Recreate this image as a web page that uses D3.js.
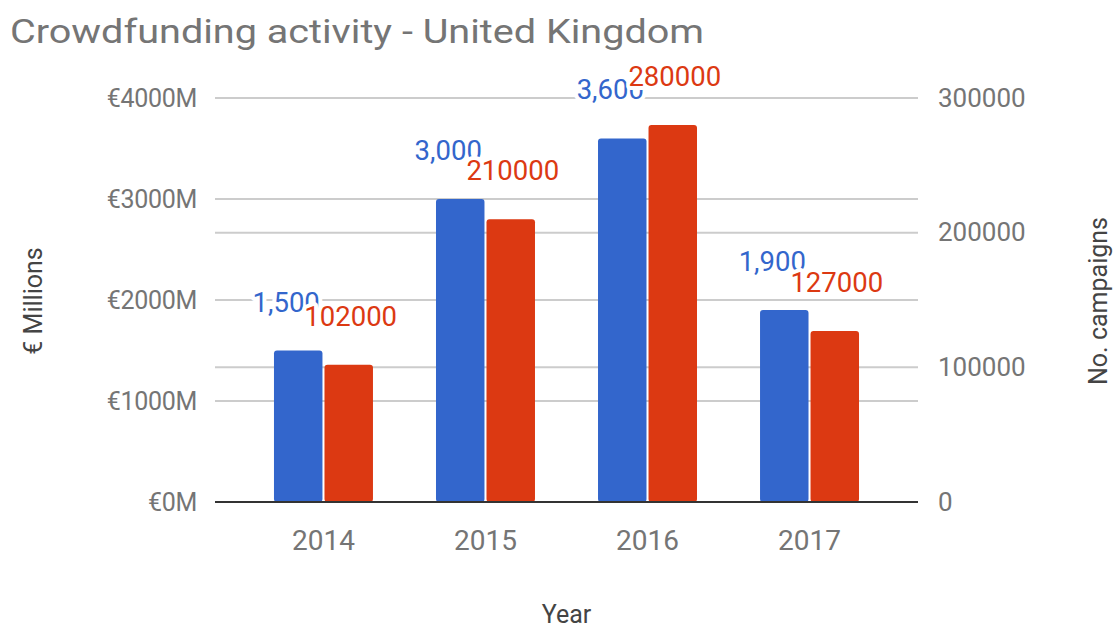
<!DOCTYPE html>
<html><head><meta charset="utf-8">
<script src="https://cdn.jsdelivr.net/npm/d3@7"></script>
<style>body{margin:0;background:#fff}svg{display:block;font-family:Roboto,"Noto Sans",sans-serif}</style>
</head><body><svg id="c" width="1115" height="630"></svg>
<script>
const title = "Crowdfunding activity - United Kingdom";
const years = ["2014","2015","2016","2017"];
const funding = [1500, 3000, 3600, 1900];
const campaigns = [102000, 210000, 280000, 127000];
const fundingLabels = ["1,500","3,000","3,600","1,900"];
const campaignLabels = ["102000","210000","280000","127000"];
const leftTicks = [0,1000,2000,3000,4000];
const rightTicks = [0,100000,200000,300000];
const leftTitle = "€ Millions", rightTitle = "No. campaigns", xTitle = "Year";
const colors = {funding:"#3366cc", campaigns:"#dc3912"};

const svg = d3.select("#c");
const L=215, R=918, T=98, B=502;
const x = d3.scaleBand().domain(years).range([L,R]).paddingInner(0.389).paddingOuter(0.364);
const xs = d3.scaleBand().domain(["f","c"]).range([0,x.bandwidth()]).paddingInner(0.04);
const yL = d3.scaleLinear().domain([0,4000]).range([B,T]);
const yR = d3.scaleLinear().domain([0,300000]).range([B,T]);

// gridlines
const g = svg.append("g");
g.selectAll(".gl").data(leftTicks.filter(d=>d>0)).join("line")
 .attr("x1",L).attr("x2",R).attr("y1",d=>yL(d)).attr("y2",d=>yL(d))
 .attr("stroke","#cccccc").attr("stroke-width",2);
g.selectAll(".gr").data(rightTicks.filter(d=>d>0&&d<300000)).join("line")
 .attr("x1",L).attr("x2",R).attr("y1",d=>yR(d)).attr("y2",d=>yR(d))
 .attr("stroke","#cccccc").attr("stroke-width",2);

// axes (text only)
const axL = d3.axisLeft(yL).tickValues(leftTicks).tickSize(0).tickPadding(18).tickFormat(d=>"€"+d+"M");
const gl = svg.append("g").attr("transform",`translate(${L},0)`).call(axL);
const axR = d3.axisRight(yR).tickValues(rightTicks).tickSize(0).tickPadding(20).tickFormat(d=>String(d));
const gr = svg.append("g").attr("transform",`translate(${R},0)`).call(axR);
const axB = d3.axisBottom(x).tickSize(0).tickPadding(28);
const gb = svg.append("g").attr("transform",`translate(0,${B})`).call(axB);
[gl,gr,gb].forEach(a=>{a.select(".domain").remove();a.selectAll("text").attr("fill","#757575").attr("font-size",26).attr("font-family","Roboto");});
gl.selectAll("text").attr("font-size",25).attr("letter-spacing",-0.3);
gb.selectAll("text").attr("font-size",28).attr("dy","0.71em");

// bars
const groups = svg.append("g").selectAll("g").data(years).join("g")
 .attr("transform",d=>`translate(${x(d)},0)`);
groups.append("rect").attr("x",xs("f")).attr("width",xs.bandwidth())
 .attr("y",(d,i)=>yL(funding[i])).attr("height",(d,i)=>B-yL(funding[i]))
 .attr("rx",3).attr("fill",colors.funding);
groups.append("rect").attr("x",xs("c")).attr("width",xs.bandwidth())
 .attr("y",(d,i)=>yR(campaigns[i])).attr("height",(d,i)=>B-yR(campaigns[i]))
 .attr("rx",3).attr("fill",colors.campaigns);

// baseline
svg.append("line").attr("x1",L).attr("x2",R).attr("y1",B).attr("y2",B).attr("stroke","#333").attr("stroke-width",2);

// data labels
const lab = svg.append("g").attr("font-size",27.5).attr("text-anchor","middle")
 .attr("stroke","#fff").attr("stroke-width",8).attr("paint-order","stroke").attr("stroke-linejoin","round");
years.forEach((yr,i)=>{
  lab.append("text").attr("x",x(yr)+xs("f")+xs.bandwidth()/2-12).attr("y",yL(funding[i])-39)
   .attr("fill",colors.funding).text(fundingLabels[i]);
  lab.append("text").attr("x",x(yr)+xs("c")+xs.bandwidth()/2+2).attr("y",yR(campaigns[i])-39)
   .attr("fill",colors.campaigns).text(campaignLabels[i]);
});

// titles
svg.append("text").attr("transform","translate(10,43) scale(1.2,1)").attr("font-size",33).attr("fill","#757575").text(title);
svg.append("text").attr("transform","translate(42,301) rotate(-90)").attr("text-anchor","middle")
 .attr("font-size",25).attr("fill","#444").text(leftTitle);
svg.append("text").attr("transform","translate(1107,301) rotate(-90)").attr("text-anchor","middle")
 .attr("font-size",25).attr("fill","#444").text(rightTitle);
svg.append("text").attr("x",(L+R)/2).attr("y",623).attr("text-anchor","middle")
 .attr("font-size",25).attr("fill","#444").text(xTitle);
</script></body></html>
